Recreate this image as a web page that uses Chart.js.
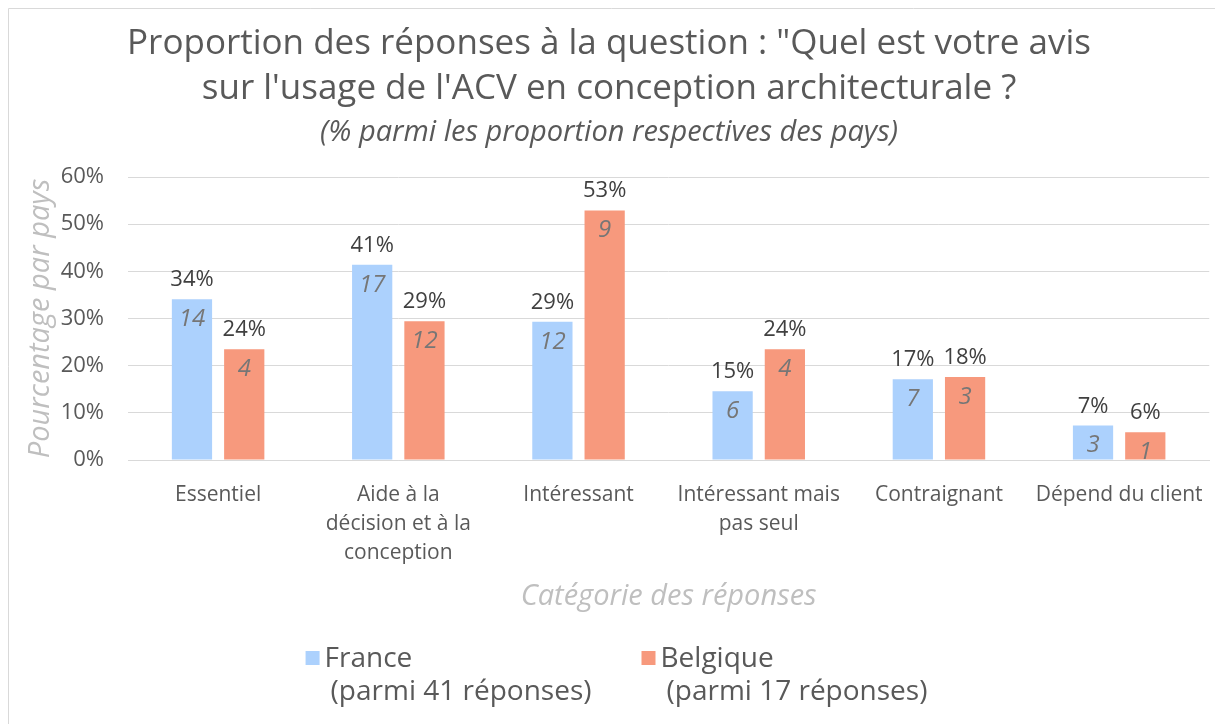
<!DOCTYPE html>
<html>
<head>
<meta charset="utf-8">
<script src="https://cdn.jsdelivr.net/npm/chart.js@4"></script>
<style>
  html, body { margin: 0; padding: 0; background: #fff; }
  canvas { display: block; }
</style>
</head>
<body>
<canvas id="chart" width="1215" height="724"></canvas>
<script>
const categories = [
  ['Essentiel'],
  ['Aide à la', 'décision et à la', 'conception'],
  ['Intéressant'],
  ['Intéressant mais', 'pas seul'],
  ['Contraignant'],
  ['Dépend du client'],
];
const seriesNames = ['France', 'Belgique'];
const seriesNotes = ['(parmi 41 réponses)', '(parmi 17 réponses)'];
const franceValues = [34.1, 41.4, 29.3, 14.6, 17.1, 7.3];
const belgiqueValues = [23.5, 29.4, 52.9, 23.5, 17.6, 5.9];
const franceCounts = [14, 17, 12, 6, 7, 3];
const belgiqueCounts = [4, 12, 9, 4, 3, 1];
const yTicks = [0, 10, 20, 30, 40, 50, 60];

const FONT = '"Open Sans", Lato, sans-serif';
const colors = ['#acd1fd', '#f7997d'];
const counts = [franceCounts, belgiqueCounts];

const framePlugin = {
  id: 'frame',
  beforeDraw(chart) {
    const ctx = chart.ctx;
    ctx.save();
    ctx.strokeStyle = '#d9d9d9';
    ctx.lineWidth = 1;
    ctx.beginPath();
    ctx.moveTo(8.5, chart.height);
    ctx.lineTo(8.5, 8.5);
    ctx.lineTo(chart.width, 8.5);
    ctx.stroke();
    ctx.restore();
  },
};

const barLabels = {
  id: 'barLabels',
  afterDatasetsDraw(chart) {
    const ctx = chart.ctx;
    ctx.save();
    ctx.textAlign = 'center';
    chart.data.datasets.forEach((ds, i) => {
      chart.getDatasetMeta(i).data.forEach((bar, j) => {
        ctx.fillStyle = '#404040';
        ctx.font = '22px ' + FONT;
        ctx.textBaseline = 'alphabetic';
        ctx.fillText(Math.round(ds.data[j]) + '%', bar.x, bar.y - 13);
        ctx.fillStyle = '#767676';
        ctx.font = 'italic 24px ' + FONT;
        ctx.textBaseline = 'middle';
        ctx.fillText(String(counts[i][j]), bar.x, bar.y + 20);
      });
    });
    ctx.restore();
  },
};

const twoLineLegend = {
  id: 'twoLineLegend',
  afterDraw(chart) {
    const ctx = chart.ctx;
    ctx.save();
    ctx.font = '28px ' + FONT;
    const box = 14, gapText = 5, indent = 25, gapItems = 50;
    const widths = seriesNames.map((n, i) =>
      Math.max(box + gapText + ctx.measureText(n).width, indent + ctx.measureText(seriesNotes[i]).width));
    const total = widths.reduce((a, b) => a + b, 0) + gapItems;
    let x = chart.width / 2 + 9 - total / 2;
    seriesNames.forEach((name, i) => {
      ctx.fillStyle = colors[i];
      ctx.fillRect(x, 651, box, box);
      ctx.fillStyle = '#595959';
      ctx.textBaseline = 'middle';
      ctx.textAlign = 'left';
      ctx.fillText(name, x + box + gapText, 659);
      ctx.fillText(seriesNotes[i], x + indent, 692);
      x += widths[i] + gapItems;
    });
    ctx.restore();
  },
};

new Chart(document.getElementById('chart'), {
  type: 'bar',
  data: {
    labels: categories,
    datasets: [
      { label: seriesNames[0], data: franceValues, backgroundColor: colors[0] },
      { label: seriesNames[1], data: belgiqueValues, backgroundColor: colors[1] },
    ],
  },
  options: {
    responsive: false,
    animation: false,
    categoryPercentage: 0.58,
    barPercentage: 0.77,
    layout: { padding: { left: 8, right: 5, top: 8, bottom: 104 } },
    plugins: {
      legend: { display: false },
      tooltip: { enabled: false },
      title: {
        display: true,
        text: ['Proportion des réponses à la question : "Quel est votre avis', "sur l'usage de l'ACV en conception architecturale ?"],
        color: '#595959',
        font: { family: FONT, size: 35, weight: 'normal', lineHeight: '45px' },
        padding: { top: 14, bottom: 0 },
      },
      subtitle: {
        display: true,
        text: '(% parmi les proportion respectives des pays)',
        color: '#595959',
        font: { family: FONT, size: 29, style: 'italic', lineHeight: '34px' },
        padding: { top: 4, bottom: 27 },
      },
    },
    scales: {
      x: {
        grid: { display: false },
        border: { display: true, color: '#d9d9d9' },
        ticks: {
          color: '#595959',
          font: { family: FONT, size: 21, lineHeight: 1.4 },
          maxRotation: 0,
          autoSkip: false,
          padding: 12,
        },
        title: {
          display: true,
          text: 'Catégorie des réponses',
          color: '#bfbfbf',
          font: { family: FONT, size: 29, style: 'italic', lineHeight: 1.2 },
          padding: { top: 8, bottom: 6 },
        },
        afterFit(scale) { scale.height = 160; },
      },
      y: {
        min: 0,
        max: 60,
        afterBuildTicks(scale) { scale.ticks = yTicks.map(v => ({ value: v })); },
        grid: { color: '#d9d9d9', drawTicks: false },
        border: { display: false },
        ticks: {
          color: '#595959',
          font: { family: FONT, size: 22 },
          padding: 24,
          callback: v => v + '%',
        },
        title: {
          display: true,
          text: 'Pourcentage par pays',
          color: '#bfbfbf',
          font: { family: FONT, size: 29, style: 'italic', lineHeight: 1.2 },
          padding: { top: 15, bottom: 4 },
        },
        afterFit(scale) { scale.width = 120; },
      },
    },
  },
  plugins: [framePlugin, barLabels, twoLineLegend],
});
</script>
</body>
</html>
